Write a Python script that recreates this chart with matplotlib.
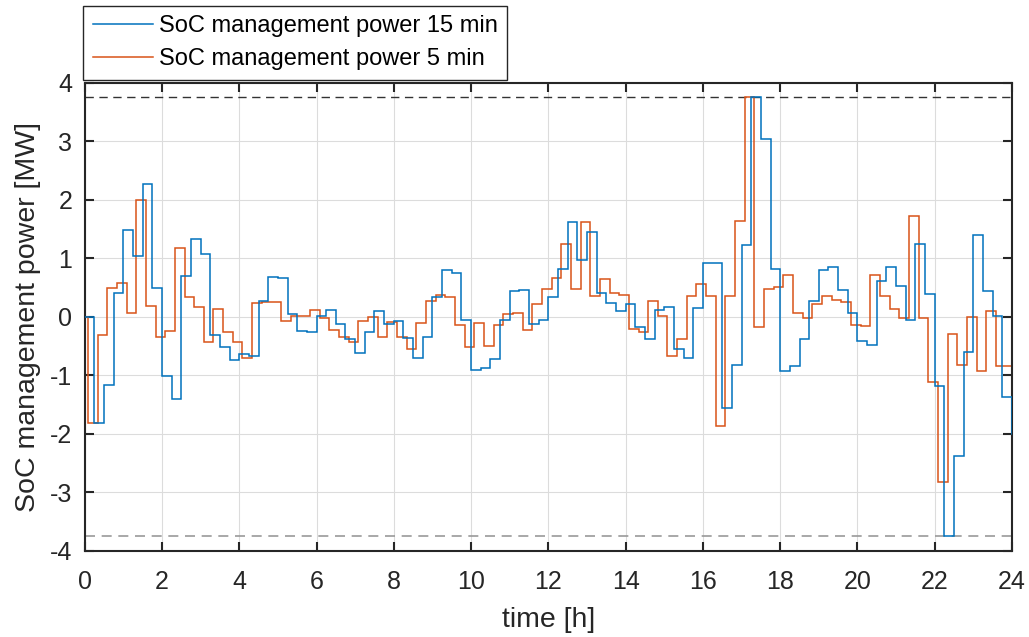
import numpy as np
from matplotlib import pyplot as plt

# SoC management power, 15 min blocks starting at 0 h (last extra value lies past 24 h)
power15 = [0, -1.81, -1.16, 0.40, 1.49, 1.03, 2.27, 0.49, -1.02, -1.40, 0.70, 1.33, 1.08, -0.31, -0.52, -0.74,
           -0.64, -0.67, 0.27, 0.67, 0.66, 0.05, -0.24, -0.27, 0.02, 0.11, -0.13, -0.39, -0.62, -0.26, 0.10, -0.13,
           -0.07, -0.36, -0.70, -0.34, 0.34, 0.79, 0.74, -0.06, -0.91, -0.87, -0.73, -0.06, 0.44, 0.46, -0.13, -0.05,
           0.34, 0.82, 1.61, 0.97, 1.45, 0.40, 0.23, 0.09, 0.22, -0.18, -0.39, 0.11, 0.17, -0.56, -0.70, 0.14,
           0.91, 0.92, -1.56, -0.83, 1.22, 3.75, 3.04, 0.81, -0.92, -0.84, -0.38, 0.27, 0.79, 0.85, 0.46, 0.07,
           -0.41, -0.48, 0.61, 0.85, 0.52, -0.06, 1.25, 0.39, -1.19, -3.75, -2.38, -0.61, 1.40, 0.44, 0.01, -1.37,
           -2.0]

# SoC management power, 5 min version (first value covers 0..5 min, then 15 min blocks)
power5 = [0,
          -1.81, -0.31, 0.49, 0.58, 0.07, 2.00, 0.18, -0.35, -0.24, 1.18, 0.34, 0.16, -0.43, 0.13, -0.27, -0.43,
          -0.70, 0.23, 0.25, 0.25, -0.07, 0.02, 0.02, 0.11, -0.03, -0.23, -0.35, -0.43, -0.07, -0.01, -0.34, -0.09,
          -0.34, -0.55, -0.11, 0.26, 0.37, 0.33, -0.15, -0.51, -0.10, -0.50, -0.14, 0.05, 0.06, -0.22, 0.21, 0.47,
          0.66, 1.24, 0.48, 1.61, 0.35, 0.64, 0.40, 0.37, -0.21, -0.27, 0.26, 0.01, -0.68, -0.39, 0.35, 0.56,
          0.36, -1.87, 0.36, 1.64, 3.75, -0.17, 0.48, 0.51, 0.72, 0.07, -0.02, 0.22, 0.36, 0.28, 0.25, -0.15,
          -0.16, 0.72, 0.35, 0.13, -0.02, 1.72, -0.02, -1.11, -2.83, -0.29, -0.82, 0.0, -0.92, 0.09, -0.84, -0.85]

powerLimit = 3.75
xTicks = list(range(0, 25, 2))
yTicks = list(range(-4, 5))

plt.rcParams['font.family'] = ['Liberation Sans', 'DejaVu Sans']
plt.rcParams['axes.unicode_minus'] = False

fig = plt.figure(figsize=(10.29, 6.37), dpi=100)
ax = fig.add_axes([0.0823, 0.1355, 0.9012, 0.7347])

edges15 = np.arange(len(power15) + 1) * 0.25
edges5 = np.concatenate(([0], 1 / 12 + np.arange(len(power5)) * 0.25))

ax.axhline(powerLimit, color='#333333', lw=1.0, ls=(0, (6, 4)), zorder=1)
ax.axhline(-powerLimit, color='#999999', lw=1.2, ls=(0, (6, 4)), zorder=1)
ax.stairs(power15, edges15, baseline=None, color='#0072BD', lw=1.1, label='SoC management power 15 min', zorder=3)
ax.stairs(power5, edges5, baseline=None, color='#D95319', lw=1.1, label='SoC management power 5 min', zorder=2)

ax.set_xlim(0, 24)
ax.set_ylim(-4, 4)
ax.set_xticks(xTicks)
ax.set_yticks(yTicks)
ax.grid(True, color='#dcdcdc', lw=0.8)
ax.set_axisbelow(True)
ax.tick_params(direction='in', top=True, right=True, length=6.5, width=1.5, colors='#262626', labelsize=18)
ax.tick_params(axis='x', pad=14)
ax.tick_params(axis='y', pad=9)
for s in ax.spines.values():
    s.set_color('#262626')
    s.set_linewidth(1.5)

ax.set_xlabel('time [h]', fontsize=20.5, color='#262626', labelpad=9)
ax.set_ylabel('SoC management power [MW]', fontsize=20.5, color='#262626', labelpad=6)

leg = fig.legend(loc='upper left', bbox_to_anchor=(0.081, 0.9906), fontsize=17, frameon=True, fancybox=False,
                 framealpha=1, edgecolor='#262626', handlelength=2.55, handletextpad=0.25, borderpad=0.39,
                 labelspacing=0.47, borderaxespad=0)
leg.get_frame().set_linewidth(1.0)

fig.savefig('out.png', dpi=100)
